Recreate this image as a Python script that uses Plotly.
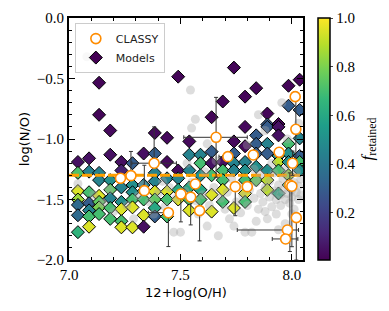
import plotly.graph_objects as go

# ---------------- data ----------------
# Models (diamonds): x = 12+log(O/H), y = log(N/O), f = f_retained
model_x = [
 7.04,7.04,7.04,7.04,7.04,7.04,7.04,
 7.09,7.09,7.09,7.09,7.09,7.09,7.09,
 7.135,7.135,7.135,7.135,7.135,7.135,7.135,7.135,
 7.185,7.185,7.185,7.185,7.185,7.185,7.185,
 7.235,7.235,7.235,7.235,7.235,7.235,7.235,
 7.285,7.285,7.285,7.285,7.285,7.285,
 7.335,7.335,7.335,7.335,7.335,7.335,
 7.385,7.385,7.385,7.385,7.385,7.385,7.385,7.385,
 7.44,7.44,7.44,7.44,7.44,7.44,
 7.49,7.49,7.49,7.49,7.49,
 7.54,7.54,7.54,7.54,7.54,7.54,
 7.59,7.59,7.59,7.59,7.59,
 7.64,7.64,7.64,7.64,7.64,7.64,
 7.69,7.69,7.69,7.69,7.69,7.69,
 7.74,7.74,7.74,7.74,7.74,7.74,
 7.79,7.79,7.79,7.79,7.79,7.79,7.79,7.79,
 7.84,7.84,7.84,7.84,7.84,7.84,
 7.89,7.89,7.89,7.89,7.89,7.89,7.89,7.89,
 7.94,7.94,7.94,7.94,7.94,7.94,7.94,
 7.985,7.985,7.985,7.985,7.985,7.985,7.985,
 8.035,8.035,8.035,8.035,8.035,8.035,
]
model_y = [
 -1.19,-1.28,-1.43,-1.50,-1.545,-1.63,-1.77,
 -1.16,-1.27,-1.44,-1.53,-1.59,-1.64,-1.725,
 -0.535,-0.80,-1.28,-1.34,-1.47,-1.52,-1.565,-1.62,
 -0.93,-1.13,-1.34,-1.42,-1.49,-1.57,-1.66,
 -1.19,-1.26,-1.40,-1.52,-1.58,-1.68,-1.73,
 -1.20,-1.38,-1.44,-1.50,-1.565,-1.73,
 -1.12,-1.38,-1.43,-1.50,-1.63,-1.725,
 -0.95,-1.12,-1.28,-1.35,-1.435,-1.50,-1.57,-1.64,
 -0.99,-1.19,-1.325,-1.435,-1.50,-1.64,
 -0.485,-1.26,-1.325,-1.42,-1.50,
 -1.02,-1.13,-1.26,-1.40,-1.50,-1.59,
 -1.13,-1.20,-1.30,-1.42,-1.50,
 -0.82,-1.105,-1.20,-1.30,-1.46,-1.60,
 -0.69,-1.19,-1.26,-1.34,-1.42,-1.52,
 -0.41,-1.02,-1.12,-1.20,-1.26,-1.57,
 -0.65,-0.90,-1.06,-1.19,-1.26,-1.34,-1.45,-1.52,
 -0.58,-0.97,-1.04,-1.12,-1.23,-1.34,
 -0.79,-0.88,-0.90,-1.04,-1.12,-1.26,-1.34,-1.42,
 -0.876,-0.90,-0.97,-1.14,-1.19,-1.26,-1.45,
 -0.56,-0.725,-1.04,-1.12,-1.19,-1.30,-1.38,
 -0.51,-0.76,-0.995,-1.14,-1.19,-1.26,
]
model_f = [
 0.05,0.72,0.95,0.85,0.35,0.35,0.65,
 0.05,0.45,0.70,0.30,0.45,0.70,0.95,
 0.02,0.02,0.45,0.45,0.95,0.75,0.80,0.70,
 0.03,0.05,0.50,0.75,0.45,0.70,0.70,
 0.05,0.10,0.45,0.50,0.95,0.70,0.95,
 0.30,0.50,0.50,0.70,0.95,0.95,
 0.05,0.45,0.50,0.70,0.95,0.05,
 0.03,0.30,0.45,0.45,0.95,0.75,0.60,0.30,
 0.03,0.03,0.45,0.95,0.70,0.70,
 0.02,0.03,0.45,0.60,0.95,
 0.03,0.45,0.45,0.60,0.70,0.95,
 0.45,0.70,0.50,0.60,0.70,
 0.02,0.30,0.05,0.70,0.95,0.95,
 0.02,0.05,0.70,0.70,0.95,0.70,
 0.02,0.03,0.30,0.45,0.45,0.95,
 0.02,0.03,0.03,0.45,0.50,0.70,0.95,0.70,
 0.02,0.30,0.30,0.30,0.50,0.75,
 0.02,0.30,0.30,0.45,0.30,0.50,0.90,0.90,
 0.02,0.05,0.05,0.50,0.90,0.70,0.60,
 0.02,0.30,0.70,0.50,0.50,0.85,0.70,
 0.02,0.30,0.45,0.30,0.70,0.50,
]

# Comparison sample (grey points)
grey_x = [
 7.04,7.11,7.18,7.20,7.26,7.31,7.33,7.36,7.40,7.43,7.45,7.47,7.50,7.29,7.15,7.38,7.42,7.48,
 7.52,7.55,7.57,7.58,7.60,7.62,7.63,7.65,7.67,7.68,7.70,7.71,7.72,7.74,7.75,7.76,7.77,7.78,7.79,7.80,7.53,7.61,7.66,7.73,
 7.81,7.82,7.83,7.84,7.85,7.86,7.87,7.88,7.89,7.90,7.90,7.91,7.92,7.93,7.93,7.94,7.95,7.95,7.96,7.96,7.97,7.97,7.98,7.98,
 7.99,7.99,8.00,8.00,8.01,8.01,8.02,8.02,8.03,8.03,8.04,8.04,7.86,7.92,7.88,7.84,7.94,8.00,7.97,7.83,7.91,
 7.08,7.34,7.545,7.567,7.55,7.85,7.955,7.88,7.62,7.98,8.03,7.80,
]
grey_y = [
 -1.37,-1.46,-1.42,-1.60,-1.55,-1.47,-1.38,-1.52,-1.45,-1.56,-1.40,-1.77,-1.77,-1.66,-1.53,-1.62,-1.35,-1.49,
 -1.43,-1.36,-1.51,-1.62,-1.46,-1.72,-1.55,-1.40,-1.80,-1.49,-1.58,-1.44,-1.66,-1.72,-1.52,-1.40,-1.61,-1.47,-1.77,-1.55,-1.20,-1.27,-1.18,-1.33,
 -1.42,-1.77,-1.49,-1.36,-1.58,-1.45,-1.52,-1.40,-1.66,-1.48,-1.35,-1.56,-1.43,-1.50,-1.62,-1.38,-1.46,-1.55,-1.33,-1.42,-1.50,-1.70,-1.45,-1.38,
 -1.53,-1.30,-1.42,-1.48,-1.36,-1.58,-1.44,-1.27,-1.50,-1.39,-1.33,-1.46,-1.30,-1.28,-1.60,-1.68,-1.75,-1.62,-1.25,-1.25,-1.20,
 -0.32,-0.32,-0.595,-0.837,-0.91,-0.80,-0.70,-0.93,-1.04,-1.00,-0.87,-1.05,
]

# CLASSY galaxies with asymmetric errors
classy_x = [7.231,7.278,7.382,7.338,7.446,7.502,7.546,7.567,7.586,7.660,7.713,7.746,7.800,7.827,7.943,8.015,8.018,8.003,7.991,8.000,8.020,7.980,7.972]
classy_y = [-1.325,-1.303,-1.200,-1.427,-1.609,-1.455,-1.480,-1.372,-1.592,-0.986,-1.146,-1.394,-1.394,-1.132,-1.110,-0.650,-0.920,-1.200,-1.380,-1.390,-1.650,-1.752,-1.826]
classy_xerr_lo = [0.0,0.0,0.10,0.0,0.09,0.0,0.0,0.0,0.0,0.145,0.04,0.0,0.0,0.0,0.0,0.015,0.0,0.0,0.0,0.0,0.0,0.225,0.06]
classy_xerr_hi = [0.0,0.0,0.10,0.0,0.0,0.0,0.0,0.0,0.0,0.14,0.0,0.0,0.0,0.0,0.0,0.015,0.0,0.0,0.0,0.0,0.0,0.05,0.055]
classy_yerr_lo = [0.0,0.0,0.0,0.0,0.28,0.23,0.23,0.0,0.25,0.33,0.0,0.24,0.0,0.0,0.0,0.04,0.30,0.10,0.55,0.50,0.35,0.0,0.0]
classy_yerr_hi = [0.0,0.20,0.30,0.21,0.0,0.0,0.0,0.0,0.0,0.33,0.0,0.0,0.0,0.0,0.0,0.04,0.27,0.10,0.10,0.0,0.0,0.0,0.0]

solar_NO = -1.30
line_x = [7.0, 8.05]

SERIF = "Liberation Serif, DejaVu Serif, serif"
SANS = "DejaVu Sans, sans-serif"

# ---------------- figure ----------------
fig = go.Figure()

fig.add_trace(go.Scatter(
    x=model_x, y=model_y, mode="markers", showlegend=False,
    marker=dict(symbol="diamond", size=10, color=model_f, colorscale="Viridis",
                cmin=0.007, cmax=1.0, line=dict(color="black", width=1),
                colorbar=dict(
                    x=1.062, xanchor="left", xpad=0, ypad=0, y=0.5, yanchor="middle",
                    len=1.0, lenmode="fraction", thickness=12,
                    outlinewidth=1.5, outlinecolor="black",
                    tickvals=[0.2, 0.4, 0.6, 0.8, 1.0], ticktext=["0.2", "0.4", "0.6", "0.8", "1.0"],
                    ticks="outside", ticklen=3, tickwidth=1,
                    tickfont=dict(family=SERIF, size=15, color="black"),
                    title=dict(text="<i>f</i><sub>retained</sub>", side="right",
                               font=dict(family=SERIF, size=17, color="black")),
                ))))

fig.add_trace(go.Scatter(
    x=line_x, y=[solar_NO, solar_NO], mode="lines", showlegend=False,
    line=dict(color="#ffa000", width=3, dash="10px,3px"), hoverinfo="skip"))

fig.add_trace(go.Scatter(
    x=grey_x, y=grey_y, mode="markers", showlegend=False,
    marker=dict(symbol="circle", size=9, color="rgba(165,165,165,0.38)")))

fig.add_trace(go.Scatter(
    x=classy_x, y=classy_y, mode="markers", name="CLASSY",
    marker=dict(symbol="circle", size=10, color="white", line=dict(color="#ff8c00", width=1.6)),
    error_x=dict(type="data", symmetric=False, array=classy_xerr_hi, arrayminus=classy_xerr_lo,
                 color="#333333", thickness=1, width=2),
    error_y=dict(type="data", symmetric=False, array=classy_yerr_hi, arrayminus=classy_yerr_lo,
                 color="#333333", thickness=1, width=2)))

# legend proxy for Models
fig.add_trace(go.Scatter(
    x=[None], y=[None], mode="markers", name="Models",
    marker=dict(symbol="diamond", size=10, color="#440154", line=dict(color="black", width=1))))

axis_common = dict(
    showline=True, linewidth=2, linecolor="black", mirror="allticks",
    ticks="inside", ticklen=6, tickwidth=1.2, tickcolor="black",
    showgrid=False, zeroline=False, automargin=False,
    tickfont=dict(family=SERIF, size=15, color="black"),
)

fig.update_xaxes(range=[7.0, 8.05], tickvals=[7.0, 7.5, 8.0], ticktext=["7.0", "7.5", "8.0"],
                 minor=dict(dtick=0.1, tick0=7.0, ticks="inside", ticklen=3, tickwidth=1, tickcolor="black"),
                 title=dict(text="12+log(O/H)", font=dict(family=SANS, size=13, color="black"), standoff=6),
                 **axis_common)
fig.update_yaxes(range=[-2.0, 0.0], tickvals=[-2.0, -1.5, -1.0, -0.5, 0.0],
                 ticktext=["\u22122.0", "\u22121.5", "\u22121.0", "\u22120.5", "0.0"],
                 minor=dict(dtick=0.1, tick0=0.0, ticks="inside", ticklen=3, tickwidth=1, tickcolor="black"),
                 title=dict(text="log(N/O)", font=dict(family=SANS, size=13, color="black"), standoff=4),
                 **axis_common)

# The page body adds an 8px offset, so the figure is sized to compensate.
fig.update_layout(
    width=381, height=303,
    margin=dict(l=61, r=81, t=10, b=51),
    plot_bgcolor="white", paper_bgcolor="white",
    legend=dict(x=0.025, y=0.979, xanchor="left", yanchor="top",
                bgcolor="rgba(255,255,255,0.8)", bordercolor="#cccccc", borderwidth=1,
                font=dict(family=SANS, size=11, color="#222222"),
                tracegroupgap=0, itemwidth=30),
    showlegend=True,
)

fig.write_html("out.html")
